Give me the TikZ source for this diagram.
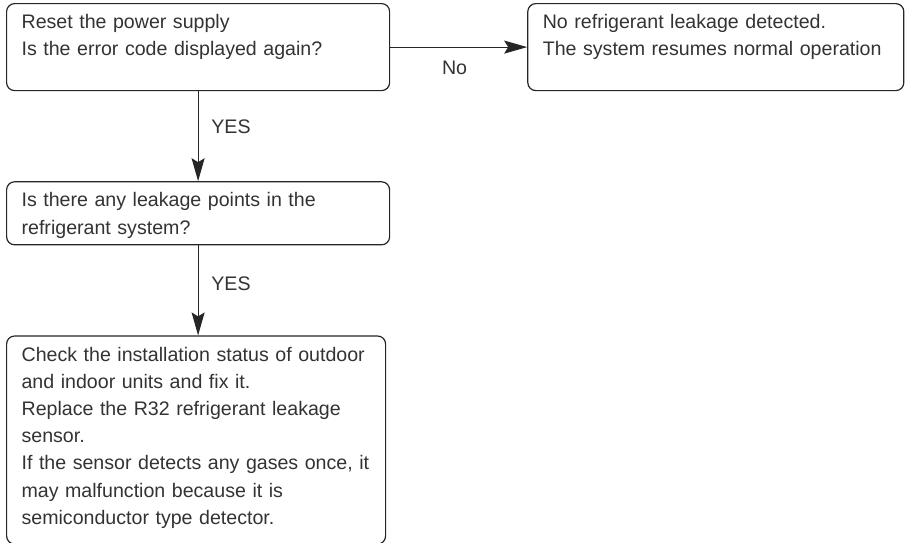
\documentclass[tikz,border=0pt]{standalone}
\usepackage{fontspec}
\setmainfont{Liberation Sans}
\usetikzlibrary{arrows.meta, positioning}

\begin{document}
\begin{tikzpicture}[
    node distance=45pt,
    font=\fontsize{9.8}{13.6}\selectfont,
    every node/.style={text=black!80},
    stepbox/.style={rectangle, rounded corners=4pt, draw=black!85, line width=0.6pt, align=left, inner xsep=7.5pt, inner ysep=5pt, text height=7.5pt},
    flow/.style={-{Stealth[length=11.5pt, width=6.5pt, inset=2pt]}, draw=black!85, line width=0.6pt}
]

\useasboundingbox (0,0) rectangle (456.5pt,-271pt);

% Boxes
\node[stepbox, text width=176.5pt, text depth=26pt, anchor=north west] (reset) at (3pt,-1.5pt) {Reset the power supply\\Is the error code displayed again?};
\node[stepbox, text width=173pt, text depth=26pt, right=68.5pt of reset] (normal) {No refrigerant leakage detected.\\The system resumes normal operation};
\node[stepbox, text width=176.5pt, text depth=14pt, below=of reset] (leak) {Is there any leakage points in the\\refrigerant system?};
\node[stepbox, text width=174.5pt, text depth=86.5pt, below=of leak.south west, anchor=north west] (sensor) {Check the installation status of outdoor\\and indoor units and fix it.\\Replace the R32 refrigerant leakage\\sensor.\\If the sensor detects any gases once, it\\may malfunction because it is\\semiconductor type detector.};

% Arrows
\draw[flow] (reset) -- node[right=3pt, pos=0.4] {YES} (leak);
\draw[flow] (leak) -- node[right=3pt, pos=0.43] {YES} (leak.south |- sensor.north);
\draw[flow] (reset) -- node[below=3.5pt, pos=0.47] {No} (normal);

\end{tikzpicture}
\end{document}
